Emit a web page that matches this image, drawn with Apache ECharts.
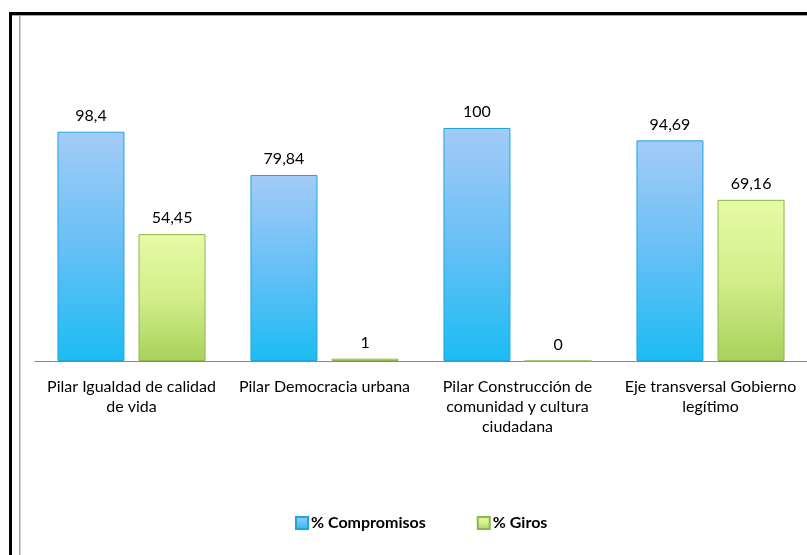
<!DOCTYPE html>
<html>
<head>
<meta charset="utf-8">
<script src="https://cdn.jsdelivr.net/npm/echarts@6/dist/echarts.min.js"></script>
<style>
html,body{margin:0;padding:0;background:#fff;}
#c{width:807px;height:555px;position:relative;}
</style>
</head>
<body>
<div id="c"></div>
<script>
const categories = [
  'Pilar Igualdad de calidad\nde vida',
  'Pilar Democracia urbana',
  'Pilar Construcción de\ncomunidad y cultura\nciudadana',
  'Eje transversal Gobierno\nlegítimo'
];
const compromisos = [98.4, 79.84, 100, 94.69];
const giros = [54.45, 1, 0, 69.16];
const seriesNames = ['% Compromisos', '% Giros'];

const FONT = "Lato, 'Open Sans', sans-serif";
const chart = echarts.init(document.getElementById('c'), null, {renderer: 'canvas'});

const blueFill = new echarts.graphic.LinearGradient(0, 0, 0, 1, [
  {offset: 0, color: '#a4cbf6'},
  {offset: 0.5, color: '#68c0f6'},
  {offset: 1, color: '#1bbcf3'}
]);
const greenFill = new echarts.graphic.LinearGradient(0, 0, 0, 1, [
  {offset: 0, color: '#e6fba6'},
  {offset: 0.5, color: '#d2ee8a'},
  {offset: 1, color: '#a8d15c'}
]);
const fmt = p => String(p.value).replace('.', ',');

chart.setOption({
  animation: false,
  graphic: [
    {type: 'rect', shape: {x: 9, y: 12, width: 3, height: 560}, style: {fill: '#000'}, silent: true},
    {type: 'rect', shape: {x: 9, y: 12, width: 810, height: 3}, style: {fill: '#000'}, silent: true},
    {type: 'rect', shape: {x: 19, y: 15, width: 1.5, height: 560}, style: {fill: '#a6a6a6'}, silent: true},
    {type: 'rect', shape: {x: 12, y: 15, width: 800, height: 1}, style: {fill: '#a6a6a6'}, silent: true}
  ],
  grid: {left: 35, right: 0, top: 128, bottom: 194, containLabel: false},
  legend: {
    data: seriesNames,
    left: 295,
    top: 515,
    padding: 0,
    itemWidth: 12,
    itemHeight: 12,
    itemGap: 51,
    icon: 'rect',
    textStyle: {fontFamily: FONT, fontSize: 16, fontWeight: 'bold', color: '#000', padding: [0, 0, 0, -2]}
  },
  xAxis: {
    type: 'category',
    data: categories,
    axisLine: {show: true, lineStyle: {color: '#868686', width: 1}},
    axisTick: {show: false},
    axisLabel: {fontFamily: FONT, fontSize: 16, color: '#000', lineHeight: 20, margin: 16, interval: 0}
  },
  yAxis: {
    type: 'value', min: 0, max: 100, show: false,
    splitLine: {show: false}
  },
  series: [
    {
      name: seriesNames[0], type: 'bar', data: compromisos,
      barWidth: 67, barGap: '21%',
      itemStyle: {color: blueFill, borderColor: '#1fa6dc', borderWidth: 1},
      label: {show: true, position: 'top', distance: 8, formatter: fmt, fontFamily: FONT, fontSize: 16, color: '#000'}
    },
    {
      name: seriesNames[1], type: 'bar', data: giros,
      barWidth: 67, barGap: '21%',
      itemStyle: {color: greenFill, borderColor: '#8db64d', borderWidth: 1},
      label: {show: true, position: 'top', distance: 8, formatter: fmt, fontFamily: FONT, fontSize: 16, color: '#000'}
    }
  ]
});
</script>
</body>
</html>
